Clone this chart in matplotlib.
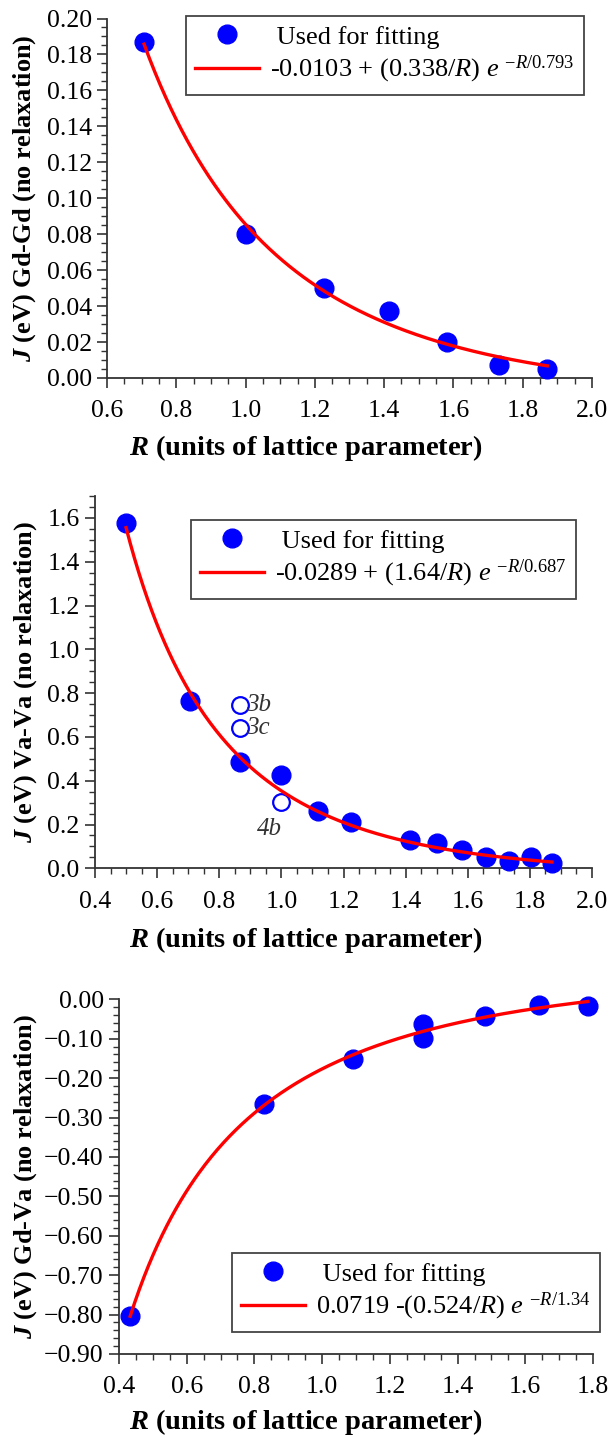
import numpy as np
import matplotlib.pyplot as plt
from matplotlib.ticker import MultipleLocator, FuncFormatter

plt.rcParams['font.family'] = 'Liberation Serif'
plt.rcParams['mathtext.fontset'] = 'custom'
plt.rcParams['mathtext.rm'] = 'Liberation Serif'
plt.rcParams['mathtext.it'] = 'Liberation Serif:italic'
plt.rcParams['mathtext.bf'] = 'Liberation Serif:bold:italic'

#*******************************************************************************

# Gd-Gd pair exchange
r_gdgd = [0.707, 1.000, 1.225, 1.414, 1.581, 1.732, 1.871]
j_gdgd = [0.187, 0.080, 0.050, 0.037, 0.020, 0.0075, 0.005]
fit_gdgd = (-0.0103, 0.338, 0.793)
lab_gdgd = r'-0.0103 + (0.338/$R$) $e$ $^{-R/0.793}$'

# Va-Va pair exchange
r_vava = [0.500, 0.707, 0.866, 1.000, 1.118, 1.225, 1.414,
          1.500, 1.581, 1.658, 1.732, 1.803, 1.871]
j_vava = [1.577, 0.766, 0.487, 0.427, 0.260, 0.213, 0.130,
          0.114, 0.084, 0.050, 0.035, 0.050, 0.023]
fit_vava = (-0.0289, 1.64, 0.687)
lab_vava = r'-0.0289 + (1.64/$R$) $e$ $^{-R/0.687}$'

# Va-Va points left out of the fit
r_vava_out = [0.866, 0.866, 1.000]
j_vava_out = [0.745, 0.640, 0.305]
tag_vava_out = ['3b', '3c', '4b']

# Gd-Va pair exchange
r_gdva = [0.433, 0.829, 1.090, 1.299, 1.299, 1.482, 1.640, 1.785]
j_gdva = [-0.803, -0.266, -0.152, -0.062, -0.097, -0.043, -0.015, -0.017]
fit_gdva = (0.0719, -0.524, 1.34)
lab_gdva = r'0.0719 -(0.524/$R$) $e$ $^{-R/1.34}$'

xlab = r'$\mathbf{R}$ (units of lattice parameter)'

#*******************************************************************************

W, H = 612, 1437
fig01 = plt.figure(figsize=(W/100, H/100), dpi=100)

def px_axes(l, r, t, b):
  return fig01.add_axes([l/W, 1-b/H, (r-l)/W, (b-t)/H])

def fit_fun(rr, p):
  return p[0] + (p[1]/rr)*np.exp(-rr/p[2])

def style_axes(ax, xmaj, ymaj, xmin, ymin, yfmt):
  for s in ['top', 'right']:
    ax.spines[s].set_visible(False)
  for s in ['left', 'bottom']:
    ax.spines[s].set_color('#333333')
    ax.spines[s].set_linewidth(1.3)
  ax.xaxis.set_major_locator(MultipleLocator(xmaj))
  ax.xaxis.set_minor_locator(MultipleLocator(xmin))
  ax.yaxis.set_major_locator(MultipleLocator(ymaj))
  ax.yaxis.set_minor_locator(MultipleLocator(ymin))
  ax.xaxis.set_major_formatter(FuncFormatter(lambda v, p: '%.1f' % v))
  ax.yaxis.set_major_formatter(
    FuncFormatter(lambda v, p: (yfmt % v).replace('-', '\u2212')))
  ax.tick_params(which='major', length=7, width=1.2, color='#333333',
                 labelsize=18.5, direction='out')
  ax.tick_params(which='minor', length=4, width=1.0, color='#333333',
                 direction='out')
  ax.tick_params(axis='x', which='major', pad=9)
  ax.tick_params(axis='y', which='major', pad=4)

def add_legend(ax, lab, x0, y0):
  h1, = ax.plot([], [], 'o', ms=13.5, color='blue', label=' Used for fitting')
  h2, = ax.plot([], [], '-', lw=2.4, color='red', label=lab)
  ax.legend(handles=[h1, h2], loc='upper left',
            bbox_to_anchor=(x0/W, 1-y0/H), bbox_transform=fig01.transFigure,
            borderaxespad=0, fontsize=19, frameon=True, fancybox=False,
            edgecolor='#444444', framealpha=1, handlelength=2.4,
            handletextpad=0.45, labelspacing=0.2, borderpad=0.35)
  ax.get_legend().get_frame().set_linewidth(1.3)

def add_labels(ax, ylab, xl_y, yl_x):
  ax.set_xlabel(xlab, fontsize=20.5, fontweight='bold', va='center')
  ax.set_ylabel(ylab, fontsize=19, fontweight='bold', va='center')
  ax.xaxis.set_label_coords(0.5, 1-xl_y/H, transform=fig01.transFigure)
  pos = ax.get_position()
  ax.yaxis.set_label_coords(yl_x/W, pos.y0+pos.height/2,
                            transform=fig01.transFigure)

def plot_pair(ax, rr, jj, pp):
  rr = np.array(rr)
  ax.plot(rr, jj, 'o', ms=13.5, color='blue', clip_on=False, zorder=3)
  rfit = np.linspace(rr.min(), rr.max(), 300)
  ax.plot(rfit, fit_fun(rfit, pp), '-', lw=2.4, color='red',
          clip_on=False, zorder=4)


# Gd-Gd
axs01 = px_axes(107, 592, 18.5, 378)
plot_pair(axs01, r_gdgd, j_gdgd, fit_gdgd)
axs01.set_xlim(0.6, 2.0)
axs01.set_ylim(0.0, 0.2)
style_axes(axs01, 0.2, 0.02, 0.05, 0.005, '%.2f')
add_legend(axs01, lab_gdgd, 186, 16)
add_labels(axs01, r'$\mathbf{J}$ (eV) Gd-Gd (no relaxation)', 448, 25)

# Va-Va
axs02 = px_axes(95, 592, 496, 868.3)
plot_pair(axs02, r_vava, j_vava, fit_vava)
axs02.plot(r_vava_out, j_vava_out, 'o', ms=12, mfc='white', mec='blue',
           mew=1.6, zorder=3)
for rv, jv, tg in zip(r_vava_out, j_vava_out, tag_vava_out):
  if tg == '4b':
    axs02.annotate(tg, (rv, jv), xytext=(-12, -27), textcoords='offset pixels',
                   ha='center', va='center', fontsize=18, style='italic',
                   color='#333333')
  else:
    axs02.annotate(tg, (rv, jv), xytext=(6, 0), textcoords='offset pixels',
                   ha='left', va='center', fontsize=18, style='italic',
                   color='#333333')
axs02.set_xlim(0.4, 2.0)
axs02.set_ylim(0.0, 1.7)
style_axes(axs02, 0.2, 0.2, 0.05, 0.05, '%.1f')
add_legend(axs02, lab_vava, 191, 520)
add_labels(axs02, r'$\mathbf{J}$ (eV) Va-Va (no relaxation)', 940, 26)

# Gd-Va
axs03 = px_axes(119, 593, 999.3, 1354)
plot_pair(axs03, r_gdva, j_gdva, fit_gdva)
axs03.set_xlim(0.4, 1.8)
axs03.set_ylim(-0.9, 0.0)
style_axes(axs03, 0.2, 0.1, 0.05, 0.02, '%.2f')
add_legend(axs03, lab_gdva, 232, 1253)
add_labels(axs03, r'$\mathbf{J}$ (eV) Gd-Va (no relaxation)', 1422, 26)

plt.savefig('out.png', dpi=100)
plt.close()
